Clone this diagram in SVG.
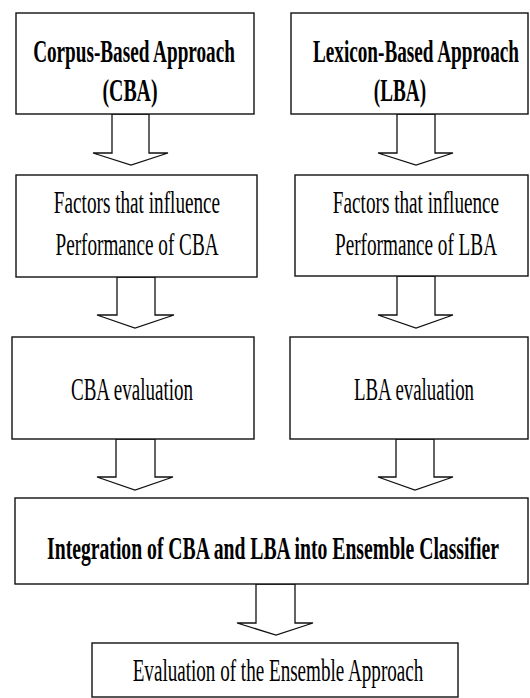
<svg xmlns="http://www.w3.org/2000/svg" width="530" height="698" viewBox="0 0 530 698">
<style>
.box{fill:#fff;stroke:#111;stroke-width:1.4}
.arr{fill:#fff;stroke:#111;stroke-width:1.3;stroke-linejoin:miter}
.t{font-family:"Liberation Serif","Times New Roman",serif;font-size:32px;fill:#000;text-anchor:middle}
.b{font-weight:bold}
</style>
<rect width="530" height="698" fill="#fff"/>
<g id="connectors">
<polygon class="arr" points="112,114 149,114 149,153 168,153 131,165 93,153 112,153"/>
<polygon class="arr" points="397,114 435,114 435,153 453,153 416,165 378,153 397,153"/>
<polygon class="arr" points="117,277 155,277 155,315 174,315 135,328 97,315 117,315"/>
<polygon class="arr" points="397,276 435,276 435,315 453,315 416,328 378,315 397,315"/>
<polygon class="arr" points="116,439 155,439 155,477 173,477 135,490 97,477 116,477"/>
<polygon class="arr" points="396,439 434,439 434,477 453,477 415,490 378,477 396,477"/>
<polygon class="arr" points="256,584 295,584 295,623 313,623 276,635 237,623 256,623"/>
</g>
<g id="cba">
<rect class="box" x="16" y="13" width="238" height="101"/>
<text class="t b" transform="translate(134,62) scale(0.6,1)">Corpus-Based Approach</text>
<text class="t b" transform="translate(130,101) scale(0.62,1)">(CBA)</text>
</g>
<g id="lba">
<rect class="box" x="291" y="13" width="237" height="101"/>
<text class="t b" transform="translate(416,62) scale(0.6,1)">Lexicon-Based Approach</text>
<text class="t b" transform="translate(400,101) scale(0.6,1)">(LBA)</text>
</g>
<g id="cba-factors">
<rect class="box" x="16" y="175" width="241" height="102"/>
<text class="t" transform="translate(137,213) scale(0.6,1)">Factors that influence</text>
<text class="t" transform="translate(137,255) scale(0.6,1)">Performance of CBA</text>
</g>
<g id="lba-factors">
<rect class="box" x="295" y="175" width="233" height="101"/>
<text class="t" transform="translate(416,213) scale(0.6,1)">Factors that influence</text>
<text class="t" transform="translate(416,255) scale(0.6,1)">Performance of LBA</text>
</g>
<g id="cba-eval">
<rect class="box" x="12" y="337" width="242" height="102"/>
<text class="t" transform="translate(132,400) scale(0.595,1)">CBA evaluation</text>
</g>
<g id="lba-eval">
<rect class="box" x="290" y="337" width="238" height="102"/>
<text class="t" transform="translate(414,400) scale(0.59,1)">LBA evaluation</text>
</g>
<g id="ensemble">
<rect class="box" x="15" y="498" width="513" height="86"/>
<text class="t b" transform="translate(273,559) scale(0.615,1)">Integration of CBA and LBA into Ensemble Classifier</text>
</g>
<g id="evaluation">
<rect class="box" x="92" y="643" width="366" height="54"/>
<text class="t" transform="translate(278,681) scale(0.597,1)">Evaluation of the Ensemble Approach</text>
</g>
</svg>
